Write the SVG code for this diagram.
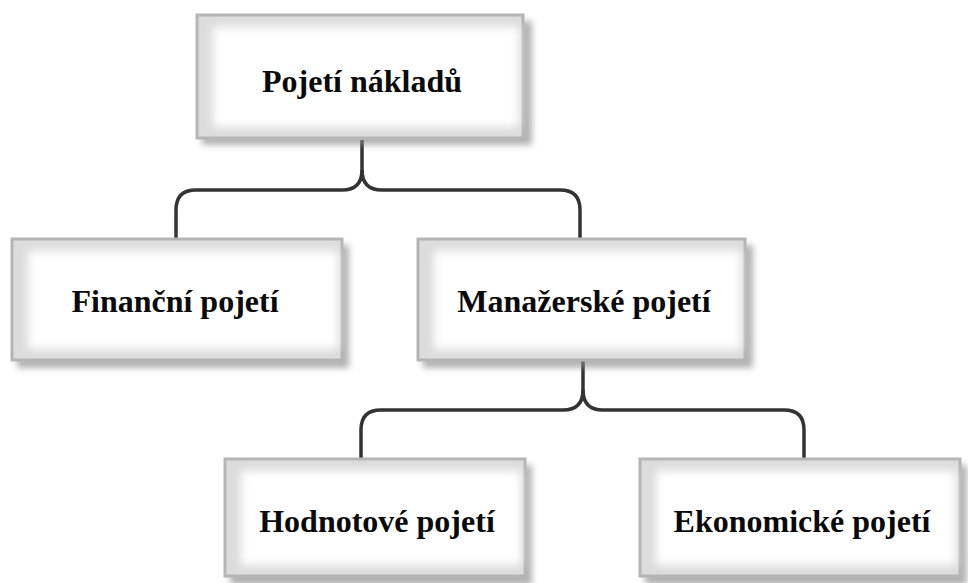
<svg xmlns="http://www.w3.org/2000/svg" width="968" height="583" viewBox="0 0 968 583">
<defs>
<filter id="sh" x="-10%" y="-10%" width="130%" height="130%"><feGaussianBlur stdDeviation="3"/></filter>
<filter id="bl" x="-10%" y="-10%" width="120%" height="120%"><feGaussianBlur stdDeviation="4"/></filter>
</defs>
<style>
.shadow{fill:#8a8a8a;opacity:0.65;filter:url(#sh)}
.frame{fill:#dcdcdc;stroke:#b5b5b5;stroke-width:3}
.inner{fill:#ffffff;filter:url(#bl)}
.lbl{font-family:"Liberation Serif","Times New Roman",serif;font-weight:bold;font-size:32px;fill:#0a0a0a;text-anchor:middle}
.conn{fill:none;stroke:#333;stroke-width:3.5}
</style>
<rect width="968" height="583" fill="#ffffff"/>
<g id="connectors">
<path class="conn" d="M362,140 V170 Q362,190 342,190 H196 Q176,190 176,210 V238"/>
<path class="conn" d="M362,170 Q362,190 382,190 H560 Q580,190 580,210 V238"/>
<path class="conn" d="M583,360 V390 Q583,410 563,410 H381 Q361,410 361,430 V458"/>
<path class="conn" d="M583,390 Q583,410 603,410 H784 Q804,410 804,430 V458"/>
</g>
<g id="n-pojeti-nakladu">
<rect class="shadow" x="202" y="21" width="330" height="124"/>
<rect class="frame" x="197" y="15" width="326" height="123"/>
<rect class="inner" x="213" y="27" width="306" height="100"/>
<text class="lbl" x="362" y="92">Pojetí nákladů</text>
</g>
<g id="n-financni">
<rect class="shadow" x="17" y="245" width="332" height="123"/>
<rect class="frame" x="12" y="239" width="330" height="121"/>
<rect class="inner" x="28" y="251" width="310" height="98"/>
<text class="lbl" x="175" y="312">Finanční pojetí</text>
</g>
<g id="n-manazerske">
<rect class="shadow" x="423" y="245" width="330" height="123"/>
<rect class="frame" x="418" y="239" width="327" height="121"/>
<rect class="inner" x="434" y="251" width="307" height="98"/>
<text class="lbl" x="584" y="312">Manažerské pojetí</text>
</g>
<g id="n-hodnotove">
<rect class="shadow" x="230" y="465" width="302" height="120"/>
<rect class="frame" x="225" y="459" width="300" height="117"/>
<rect class="inner" x="241" y="471" width="280" height="94"/>
<text class="lbl" x="377" y="532">Hodnotové pojetí</text>
</g>
<g id="n-ekonomicke">
<rect class="shadow" x="645" y="465" width="322" height="120"/>
<rect class="frame" x="640" y="459" width="320" height="117"/>
<rect class="inner" x="656" y="471" width="300" height="94"/>
<text class="lbl" x="802" y="532">Ekonomické pojetí</text>
</g>
</svg>
